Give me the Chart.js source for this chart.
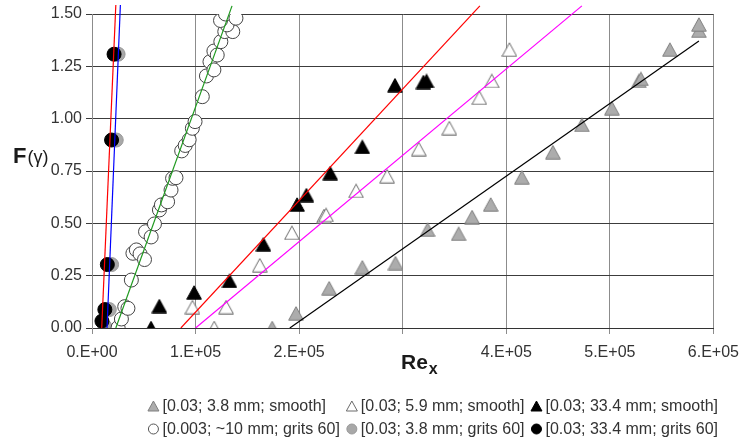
<!DOCTYPE html>
<html>
<head>
<meta charset="utf-8">
<script src="https://cdn.jsdelivr.net/npm/chart.js@4.4.0/dist/chart.umd.min.js"></script>
<style>
  body { margin: 0; background: #fff; }
</style>
</head>
<body>
<canvas id="reChart" width="748" height="443"></canvas>
<script>
const xTickLabels = ['0.E+00', '1.E+05', '2.E+05', '', '4.E+05', '5.E+05', '6.E+05'];
const yTickLabels = ['0.00', '0.25', '0.50', '0.75', '1.00', '1.25', '1.50'];
const seriesNames = [
  '[0.03; 3.8 mm; smooth]', '[0.03; 5.9 mm; smooth]', '[0.03; 33.4 mm; smooth]',
  '[0.003; ~10 mm; grits 60]', '[0.03; 3.8 mm; grits 60]', '[0.03; 33.4 mm; grits 60]'
];

// [0.03; 3.8 mm; smooth]
const smooth38X = [174000, 197000, 229000, 261000, 293000, 324000, 354000, 367000, 385000, 415000, 445000, 473000, 502000, 528000, 530000, 558000, 586000, 586000];
const smooth38Y = [0.00, 0.07, 0.19, 0.29, 0.31, 0.47, 0.45, 0.53, 0.59, 0.72, 0.84, 0.97, 1.05, 1.18, 1.19, 1.33, 1.42, 1.45];
// [0.03; 5.9 mm; smooth]
const smooth59X = [97000, 118000, 129500, 162000, 193000, 224000, 226000, 255000, 285000, 315500, 345000, 374000, 386000, 403000];
const smooth59Y = [0.10, 0.00, 0.10, 0.30, 0.455, 0.535, 0.54, 0.655, 0.725, 0.855, 0.955, 1.10, 1.18, 1.33];
// [0.03; 33.4 mm; smooth]
const smooth334X = [57000, 65000, 98600, 132700, 165500, 198000, 207000, 230000, 261000, 292500, 320000, 323000];
const smooth334Y = [0.00, 0.105, 0.17, 0.225, 0.40, 0.59, 0.635, 0.74, 0.865, 1.16, 1.175, 1.18];
// [0.003; ~10 mm; grits 60]
const grits10X = [25200, 28400, 31600, 34700, 38000, 39500, 42800, 46400, 50700, 51700, 57100, 60300, 65100, 67000, 73000, 76300, 77800, 81100, 86600, 90000, 93800, 96900, 99500, 106500, 110500, 113900, 117700, 117700, 120900, 124400, 128200, 135900, 130400, 124100, 128900, 139000];
const grits10Y = [0.002, 0.043, 0.102, 0.094, 0.229, 0.357, 0.373, 0.354, 0.327, 0.460, 0.435, 0.497, 0.564, 0.588, 0.603, 0.659, 0.715, 0.718, 0.846, 0.872, 0.899, 0.954, 0.986, 1.105, 1.204, 1.272, 1.233, 1.323, 1.304, 1.368, 1.416, 1.416, 1.448, 1.469, 1.500, 1.480];
// [0.03; 3.8 mm; grits 60]
const grits38X = [12400, 16700, 18900, 23400, 25200];
const grits38Y = [0.007, 0.088, 0.303, 0.898, 1.308];
// [0.03; 33.4 mm; grits 60]
const grits334X = [9600, 12400, 14800, 18900, 21300];
const grits334Y = [0.033, 0.088, 0.303, 0.898, 1.308];

// trend lines (end points)
const fitSmooth38X = [191000, 586000], fitSmooth38Y = [0, 1.371];
const fitSmooth59X = [100000, 473000], fitSmooth59Y = [0, 1.539];
const fitSmooth334X = [85800, 374500], fitSmooth334Y = [0, 1.539];
const fitGrits10X = [23000, 135200], fitGrits10Y = [0, 1.539];
const fitGrits38X = [14500, 27400], fitGrits38Y = [0, 1.543];
const fitGrits334X = [9400, 23000], fitGrits334Y = [0, 1.543];

const pts = (xs, ys) => xs.map((x, i) => ({ x: x, y: ys[i] }));
const FONT = '"Liberation Sans", Arial, sans-serif';

function triMarker(fill, stroke, w, h) {
  const c = document.createElement('canvas');
  c.width = w; c.height = h;
  const g = c.getContext('2d');
  g.beginPath();
  g.moveTo(w / 2, 0.8);
  g.lineTo(w - 0.7, h - 0.8);
  g.lineTo(0.7, h - 0.8);
  g.closePath();
  g.fillStyle = fill;
  g.fill();
  g.strokeStyle = stroke;
  g.lineWidth = 1;
  g.stroke();
  return c;
}

const triGray = triMarker('#acacac', '#7f7f7f', 16, 15);
const triWhite = triMarker('#ffffff', '#6a6a6a', 16, 15);
const triBlack = triMarker('#000000', '#000000', 16, 15);

function scatterSet(label, xs, ys, style, order) {
  return Object.assign({
    label: label,
    data: pts(xs, ys),
    showLine: false,
    order: order
  }, style);
}

function fitSet(xs, ys, color) {
  return {
    label: '',
    data: pts(xs, ys),
    showLine: true,
    borderColor: color,
    borderWidth: 1.2,
    pointRadius: 0,
    clip: { left: 0, top: 10, right: 0, bottom: 0 },
    order: 0
  };
}

const legendItems = [
  { text: seriesNames[0], kind: 'tri', fill: '#acacac', stroke: '#7f7f7f' },
  { text: seriesNames[1], kind: 'tri', fill: '#ffffff', stroke: '#6a6a6a' },
  { text: seriesNames[2], kind: 'tri', fill: '#000000', stroke: '#000000' },
  { text: seriesNames[3], kind: 'circ', fill: '#ffffff', stroke: '#555555' },
  { text: seriesNames[4], kind: 'circ', fill: '#a8a8a8', stroke: '#999999' },
  { text: seriesNames[5], kind: 'circ', fill: '#000000', stroke: '#000000' }
];

const extras = {
  id: 'extras',
  afterDraw(chart) {
    const ctx = chart.ctx;
    ctx.save();
    ctx.fillStyle = '#1a1a1a';
    ctx.textBaseline = 'alphabetic';
    ctx.textAlign = 'left';
    // y axis title
    ctx.font = 'bold 22px ' + FONT;
    ctx.fillText('F', 13, 163);
    const fw = ctx.measureText('F').width;
    ctx.font = '18px ' + FONT;
    ctx.fillText('(\u03b3)', 13 + fw + 1, 163);
    // x axis title
    ctx.font = 'bold 21px ' + FONT;
    ctx.fillText('Re', 401, 369);
    const rw = ctx.measureText('Re').width;
    ctx.font = 'bold 16px ' + FONT;
    ctx.fillText('x', 401 + rw + 1, 374);

    // legend: three aligned columns, right end near the plot's right edge
    ctx.font = '16px ' + FONT;
    const colW = [0, 1, 2].map(c => Math.max(
      ctx.measureText(legendItems[c].text).width,
      ctx.measureText(legendItems[c + 3].text).width));
    const markGap = 9, colGap = 12;
    const total = colW.reduce((a, w) => a + markGap + w, 0) + 2 * colGap;
    let x = 718 - total;
    const colX = [];
    colW.forEach(w => { colX.push(x); x += markGap + w + colGap; });
    const rowY = [406, 429];
    ctx.textBaseline = 'middle';
    legendItems.forEach((it, i) => {
      const cx = colX[i % 3];
      const cy = rowY[Math.floor(i / 3)];
      ctx.beginPath();
      if (it.kind === 'tri') {
        ctx.moveTo(cx, cy - 5);
        ctx.lineTo(cx + 5.5, cy + 5);
        ctx.lineTo(cx - 5.5, cy + 5);
        ctx.closePath();
      } else {
        ctx.arc(cx, cy, 5, 0, Math.PI * 2);
      }
      ctx.fillStyle = it.fill;
      ctx.fill();
      ctx.strokeStyle = it.stroke;
      ctx.lineWidth = 1;
      ctx.stroke();
      ctx.fillStyle = '#333333';
      ctx.fillText(it.text, cx + markGap, cy + 1);
    });
    ctx.restore();
  }
};

const ctx = document.getElementById('reChart').getContext('2d');
const reChart = new Chart(ctx, {
  type: 'scatter',
  data: {
    datasets: [
      fitSet(fitSmooth38X, fitSmooth38Y, '#000000'),
      fitSet(fitSmooth59X, fitSmooth59Y, '#ff00ff'),
      fitSet(fitSmooth334X, fitSmooth334Y, '#ff0000'),
      fitSet(fitGrits10X, fitGrits10Y, '#1f9a1f'),
      fitSet(fitGrits38X, fitGrits38Y, '#0000ff'),
      fitSet(fitGrits334X, fitGrits334Y, '#ff0000'),
      scatterSet(seriesNames[0], smooth38X, smooth38Y, { pointStyle: triGray, pointRadius: 8 }, 3),
      scatterSet(seriesNames[1], smooth59X, smooth59Y, { pointStyle: triWhite, pointRadius: 8 }, 3),
      scatterSet(seriesNames[2], smooth334X, smooth334Y, { pointStyle: triBlack, pointRadius: 8 }, 3),
      scatterSet(seriesNames[3], grits10X, grits10Y, { pointStyle: 'circle', pointRadius: 7, backgroundColor: '#ffffff', borderColor: '#444444', borderWidth: 1 }, 3),
      scatterSet(seriesNames[4], grits38X, grits38Y, { pointStyle: 'circle', pointRadius: 7, backgroundColor: '#a8a8a8', borderColor: '#9a9a9a', borderWidth: 1 }, 4),
      scatterSet(seriesNames[5], grits334X, grits334Y, { pointStyle: 'circle', pointRadius: 7, backgroundColor: '#000000', borderColor: '#000000', borderWidth: 1 }, 2)
    ]
  },
  options: {
    responsive: false,
    animation: false,
    devicePixelRatio: 1,
    events: [],
    layout: { padding: { top: 14, right: 29, left: 0, bottom: 0 } },
    plugins: {
      legend: { display: false },
      tooltip: { enabled: false }
    },
    scales: {
      x: {
        type: 'linear',
        min: 0,
        max: 600000,
        ticks: {
          stepSize: 100000,
          callback: v => xTickLabels[Math.round(v / 100000)],
          color: '#333333',
          font: { family: FONT, size: 16 },
          padding: 9,
          maxRotation: 0
        },
        grid: { color: '#8c8c8c', lineWidth: 1, tickLength: 6 },
        border: { color: '#333333' },
        afterFit: s => { s.height = 443 - 328; }
      },
      y: {
        min: 0,
        max: 1.5,
        ticks: {
          stepSize: 0.25,
          callback: v => yTickLabels[Math.round(v / 0.25)],
          color: '#333333',
          font: { family: FONT, size: 16 },
          padding: 4
        },
        grid: { color: '#3c3c3c', lineWidth: 1, tickLength: 6 },
        border: { color: '#8c8c8c' },
        afterFit: s => { s.width = 92; }
      }
    }
  },
  plugins: [extras]
});
</script>
</body>
</html>
